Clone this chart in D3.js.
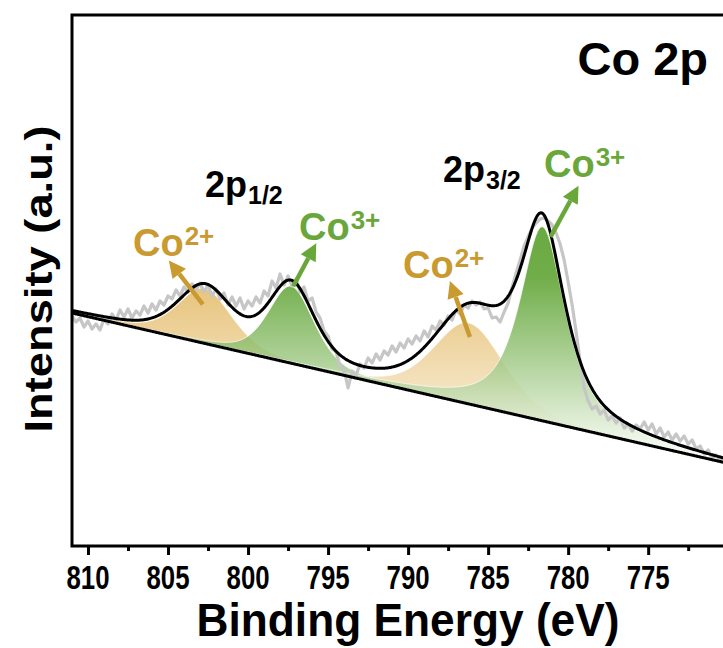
<!DOCTYPE html>
<html>
<head>
<meta charset="utf-8">
<script src="https://cdn.jsdelivr.net/npm/d3@7"></script>
<style>
  html, body { margin: 0; padding: 0; background: #fff; }
  svg { display: block; }
  text { font-family: "Liberation Sans", Arial, Helvetica, sans-serif; font-weight: bold; }
</style>
</head>
<body>
<svg id="chart" width="723" height="648"></svg>
<script>
// Co 2p core-level spectrum: raw counts, linear background and fitted components

// raw spectrum, sampled every 0.25 eV from 811 eV downwards
const rawStart = 811;
const rawStep = -0.25;
const rawCounts = [
  2300, 2240, 2280, 2190, 2250, 2170, 2220, 2160, 2270, 2220,
  2320, 2260, 2360, 2290, 2370, 2280, 2350, 2310, 2400, 2330,
  2420, 2360, 2450, 2410, 2500, 2470, 2560, 2500, 2590, 2540,
  2620, 2560, 2630, 2540, 2610, 2500, 2570, 2470, 2530, 2410,
  2490, 2400, 2480, 2370, 2450, 2400, 2490, 2430, 2550, 2500,
  2650, 2580, 2720, 2610, 2700, 2600, 2670, 2540, 2590, 2450,
  2480, 2340, 2280, 2150, 2100, 1970, 1940, 1800, 1760, 1580,
  1750, 1710, 1820, 1780, 1880, 1830, 1920, 1860, 1950, 1910,
  2000, 1940, 2030, 1980, 2070, 2020, 2100, 2050, 2150, 2090,
  2200, 2160, 2250, 2210, 2300, 2260, 2360, 2320, 2410, 2380,
  2450, 2410, 2440, 2370, 2380, 2280, 2290, 2240, 2340, 2430,
  2590, 2730, 2860, 3000, 3090, 3180, 3230, 3270, 3280, 3250,
  3210, 3130, 3020, 2860, 2640, 2410, 2140, 1840, 1580, 1450,
  1370, 1400, 1320, 1360, 1260, 1300, 1230, 1280, 1180, 1220,
  1150, 1210, 1170, 1240, 1160, 1220, 1120, 1180, 1090, 1140,
  1060, 1120, 1050, 1100, 1020, 1060, 970, 1000, 920, 960,
  880, 910, 850, 880, 830
];

// background end points [eV, counts]
const backgroundEnergy = [811, 770];
const backgroundCounts = [2330, 826];

// fitted components (pseudo-Voigt)
const componentSpecies = ["Co2+", "Co3+", "Co2+", "Co3+"];
const componentCenter = [802.7, 797.3, 786.2, 781.6];   // eV
const componentHeight = [550, 770, 810, 1940];          // counts above background
const componentFwhm = [4.0, 3.4, 5.2, 3.4];             // eV
const componentLorentz = [0.4, 0.45, 0.35, 0.8];        // Lorentzian fraction

const xMajorTicks = [810, 805, 800, 795, 790, 785, 780, 775];
const xMinorTicks = [807.5, 802.5, 797.5, 792.5, 787.5, 782.5, 777.5, 772.5];

// ---------------------------------------------------------------------------
const mLeft = 72, mTop = 15, mBottom = 546, mRight = 765;

const svg = d3.select("#chart");

const x = d3.scaleLinear().domain([811, 767.7]).range([mLeft, mRight]);
const y = d3.scaleLinear().domain([0, 5310]).range([mBottom, mTop]);

const bg = d3.scaleLinear().domain(backgroundEnergy).range(backgroundCounts);

const comps = componentCenter.map((c, i) => ({
  species: componentSpecies[i], c, h: componentHeight[i],
  w: componentFwhm[i], eta: componentLorentz[i]
}));
function pv(p, e) {
  const d = (e - p.c) / p.w;
  const lor = 1 / (1 + 4 * d * d);
  const gau = Math.exp(-4 * Math.LN2 * d * d);
  return p.h * (p.eta * lor + (1 - p.eta) * gau);
}

const grid = d3.range(811.2, 767.6, -0.05);
const raw = rawCounts.map((v, i) => [rawStart + i * rawStep, v]);

const colors = {
  "Co2+": { top: "#e0b255", bottom: "#fdf8ee", text: "#c99a2f" },
  "Co3+": { top: "#4e9a1e", bottom: "#fbfdf9", text: "#6aa73b" }
};

const defs = svg.append("defs");
defs.append("clipPath").attr("id", "plotClip")
  .append("rect").attr("x", mLeft).attr("y", mTop)
  .attr("width", mRight - mLeft).attr("height", mBottom - mTop);

Object.entries(colors).forEach(([k, c]) => {
  const g = defs.append("linearGradient")
    .attr("id", "grad" + k.replace("+", "p"))
    .attr("gradientUnits", "userSpaceOnUse")
    .attr("x1", 0).attr("x2", 0)
    .attr("y1", y(3300)).attr("y2", y(900));
  g.append("stop").attr("offset", 0).attr("stop-color", c.top);
  g.append("stop").attr("offset", 0.25).attr("stop-color", c.top).attr("stop-opacity", 0.95);
  g.append("stop").attr("offset", 1).attr("stop-color", c.bottom);
});

const plot = svg.append("g").attr("clip-path", "url(#plotClip)");

// component areas
const area = p => d3.area()
  .x(e => x(e))
  .y0(e => y(bg(e)))
  .y1(e => y(bg(e) + pv(p, e)))(grid);

plot.selectAll("path.comp")
  .data([comps[0], comps[2], comps[1], comps[3]])
  .join("path")
  .attr("class", "comp")
  .attr("d", area)
  .attr("fill", d => "url(#grad" + d.species.replace("+", "p") + ")")
  .attr("fill-opacity", 0.85)
  .attr("stroke", "#ffffff")
  .attr("stroke-width", 1)
  .attr("stroke-opacity", 0.7);

// raw spectrum
plot.append("path")
  .datum(raw)
  .attr("d", d3.line().x(d => x(d[0])).y(d => y(d[1])))
  .attr("fill", "none")
  .attr("stroke", "#c6c6c6")
  .attr("stroke-width", 3.2)
  .attr("stroke-linejoin", "round");

// background
plot.append("path")
  .datum(grid)
  .attr("d", d3.line().x(e => x(e)).y(e => y(bg(e))))
  .attr("fill", "none").attr("stroke", "#000").attr("stroke-width", 3);

// envelope
plot.append("path")
  .datum(grid)
  .attr("d", d3.line().x(e => x(e)).y(e => y(bg(e) + d3.sum(comps, p => pv(p, e)))))
  .attr("fill", "none").attr("stroke", "#000").attr("stroke-width", 3)
  .attr("stroke-linejoin", "round");

// frame
svg.append("path")
  .attr("d", `M${mLeft},${mBottom}V${mTop}H${mRight}V${mBottom}Z`)
  .attr("fill", "none").attr("stroke", "#000").attr("stroke-width", 3);

// x axis ticks
const axisG = svg.append("g").attr("transform", `translate(0,${mBottom})`);
axisG.call(d3.axisBottom(x).tickValues(xMajorTicks).tickSize(9).tickSizeOuter(0).tickFormat(""));
const minorG = svg.append("g").attr("transform", `translate(0,${mBottom})`);
minorG.call(d3.axisBottom(x).tickValues(xMinorTicks).tickSize(5).tickSizeOuter(0).tickFormat(""));
[axisG, minorG].forEach(g => {
  g.select(".domain").remove();
  g.selectAll("line").attr("stroke", "#000").attr("stroke-width", 3);
});

// condensed single-run text
function squeezed(parent, str, tx, ty, size, len, anchor) {
  return parent.append("text")
    .attr("x", tx).attr("y", ty)
    .attr("text-anchor", anchor)
    .attr("font-size", size)
    .attr("textLength", len).attr("lengthAdjust", "spacingAndGlyphs")
    .text(str);
}

xMajorTicks.forEach(t => squeezed(svg, d3.format("d")(t), x(t), 589, 34, 43, "middle"));

squeezed(svg, "Binding Energy (eV)", 408, 636, 47, 423, "middle");

svg.append("text")
  .attr("transform", "translate(52,279) rotate(-90)")
  .attr("text-anchor", "middle")
  .attr("font-size", 38)
  .attr("textLength", 307).attr("lengthAdjust", "spacingAndGlyphs")
  .text("Intensity (a.u.)");

svg.append("text")
  .attr("x", 708).attr("y", 75)
  .attr("text-anchor", "end")
  .attr("font-size", 47)
  .text("Co 2p");

// base text with a raised or lowered trailing part
function scripted(base, tail, tx, ty, size, tailSize, dy, fill) {
  const t = svg.append("text")
    .attr("x", tx).attr("y", ty)
    .attr("font-size", size)
    .attr("fill", fill);
  t.append("tspan").text(base);
  t.append("tspan").attr("font-size", tailSize).attr("dx", 1).attr("dy", dy).text(tail);
  return t;
}

// spin-orbit labels
scripted("2p", "1/2", 205, 197, 36, 25, 7, "#000");
scripted("2p", "3/2", 443, 182, 36, 25, 7, "#000");

// arrows from the component maxima to the species labels
const arrowSpec = [
  { i: 0, dx0: -2, dy0: 16, dx1: -36, dy1: -28, label: [133, 256] },
  { i: 1, dx0: 2, dy0: 0, dx1: 25, dy1: -43, label: [299, 240] },
  { i: 2, dx0: 1, dy0: 14, dx1: -19, dy1: -42, label: [403, 278] },
  { i: 3, dx0: 8, dy0: 10, dx1: 36, dy1: -41, label: [544, 177] }
];
arrowSpec.forEach(a => {
  const p = comps[a.i];
  const col = colors[p.species].text;
  const ax = x(p.c), ay = y(bg(p.c) + p.h);
  const x0 = ax + a.dx0, y0 = ay + a.dy0, x1 = ax + a.dx1, y1 = ay + a.dy1;
  const ang = Math.atan2(y1 - y0, x1 - x0);
  const headLen = 17, headW = 8.5;
  const bx = x1 - headLen * Math.cos(ang), by = y1 - headLen * Math.sin(ang);
  svg.append("line")
    .attr("x1", x0).attr("y1", y0).attr("x2", bx).attr("y2", by)
    .attr("stroke", col).attr("stroke-width", 4.5);
  const nx = -Math.sin(ang), ny = Math.cos(ang);
  svg.append("path")
    .attr("d", `M${x1},${y1}L${bx + nx * headW},${by + ny * headW}L${bx - nx * headW},${by - ny * headW}Z`)
    .attr("fill", col);
  scripted("Co", p.species.slice(2), a.label[0], a.label[1], 38, 26, -11, col);
});
</script>
</body>
</html>
